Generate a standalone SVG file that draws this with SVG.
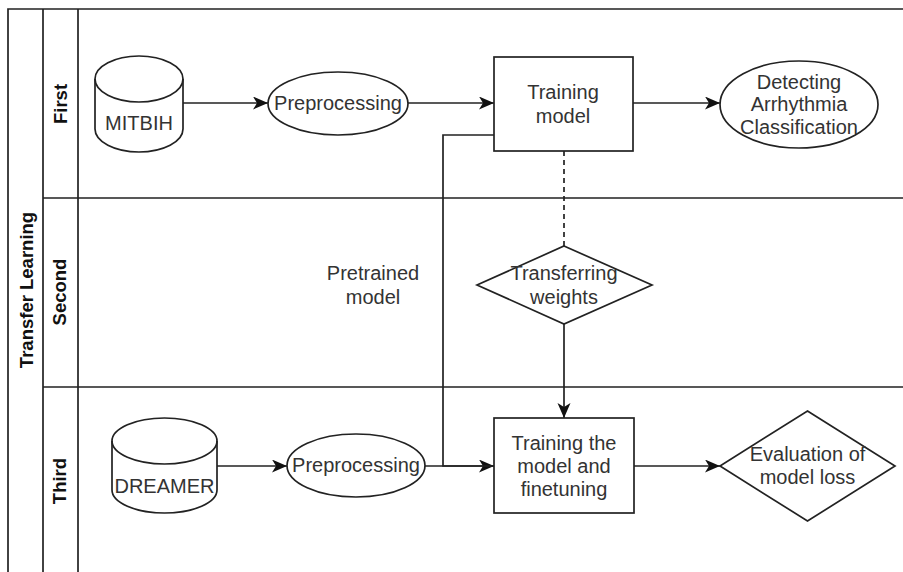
<svg xmlns="http://www.w3.org/2000/svg" width="903" height="572" viewBox="0 0 903 572">
<defs>
<marker id="arr" markerUnits="userSpaceOnUse" markerWidth="16" markerHeight="14" refX="15" refY="6.5" orient="auto">
<path d="M0,0 L15,6.5 L0,13 L4,6.5 Z" fill="#111"/>
</marker>
<style>
.ln{fill:none;stroke:#222;stroke-width:1.7}
.sh{fill:#fff;stroke:#222;stroke-width:1.7}
.t{font-family:"Liberation Sans",Arial,sans-serif;font-size:20px;fill:#333;text-anchor:middle}
.h{font-family:"Liberation Sans",Arial,sans-serif;font-size:18.5px;font-weight:bold;fill:#111;text-anchor:middle;dominant-baseline:central}
</style>
</defs>
<rect width="903" height="572" fill="#fff"/>
<g id="pool">
<path class="ln" d="M8,572 V9 H903 M43,9 V572 M78,9 V572 M43,198 H903 M43,387 H903"/>
<text class="h" transform="translate(26,290) rotate(-90)">Transfer Learning</text>
</g>
<g id="lane-first"><text class="h" transform="translate(60,104) rotate(-90)">First</text></g>
<g id="lane-second"><text class="h" transform="translate(59,292) rotate(-90)">Second</text></g>
<g id="lane-third"><text class="h" transform="translate(59,481) rotate(-90)">Third</text></g>
<g id="connectors">
<path class="ln" d="M183,103 H268" marker-end="url(#arr)"/>
<path class="ln" d="M408,103 H494" marker-end="url(#arr)"/>
<path class="ln" d="M633,103 H720" marker-end="url(#arr)"/>
<path class="ln" d="M564,151 V246" stroke-dasharray="5,4"/>
<path class="ln" d="M564,324 V418" marker-end="url(#arr)"/>
<path class="ln" d="M494,135 H443 V466 H494" marker-end="url(#arr)"/>
<path class="ln" d="M217,466 H287" marker-end="url(#arr)"/>
<path class="ln" d="M425,466 H494"/>
<path class="ln" d="M634,466 H720" marker-end="url(#arr)"/>
<text class="t" x="373" y="280">Pretrained</text>
<text class="t" x="373" y="304">model</text>
</g>
<g id="mitbih">
<path class="sh" d="M95,79 A44,23 0 0 1 183,79 V129 A44,23 0 0 1 95,129 Z"/>
<path class="ln" d="M95,79 A44,23 0 0 0 183,79"/>
<text class="t" x="139" y="130">MITBIH</text>
</g>
<g id="preprocessing1">
<ellipse class="sh" cx="338" cy="103.5" rx="70" ry="31.5"/>
<text class="t" x="338" y="110">Preprocessing</text>
</g>
<g id="training-model">
<rect class="sh" x="494" y="57" width="139" height="94"/>
<text class="t" x="563" y="99">Training</text>
<text class="t" x="563" y="123">model</text>
</g>
<g id="detecting">
<ellipse class="sh" cx="799" cy="104.5" rx="79" ry="43.5"/>
<text class="t" x="799" y="89">Detecting</text>
<text class="t" x="799" y="111">Arrhythmia</text>
<text class="t" x="799" y="134">Classification</text>
</g>
<g id="transferring">
<path class="sh" d="M564,246 L652,285 L564,324 L477,285 Z"/>
<text class="t" x="564" y="280">Transferring</text>
<text class="t" x="564" y="304">weights</text>
</g>
<g id="dreamer">
<path class="sh" d="M112,441 A52.5,23 0 0 1 217,441 V490 A52.5,23 0 0 1 112,490 Z"/>
<path class="ln" d="M112,441 A52.5,23 0 0 0 217,441"/>
<text class="t" x="164.5" y="493">DREAMER</text>
</g>
<g id="preprocessing2">
<ellipse class="sh" cx="356" cy="465.5" rx="69" ry="31.5"/>
<text class="t" x="356" y="472">Preprocessing</text>
</g>
<g id="finetuning">
<rect class="sh" x="494" y="418" width="140" height="95"/>
<text class="t" x="564" y="450">Training the</text>
<text class="t" x="564" y="473">model and</text>
<text class="t" x="564" y="496">finetuning</text>
</g>
<g id="evaluation">
<path class="sh" d="M807.5,411 L895,466 L807.5,521 L720,466 Z"/>
<text class="t" x="807.5" y="461">Evaluation of</text>
<text class="t" x="807.5" y="484">model loss</text>
</g>
</svg>
